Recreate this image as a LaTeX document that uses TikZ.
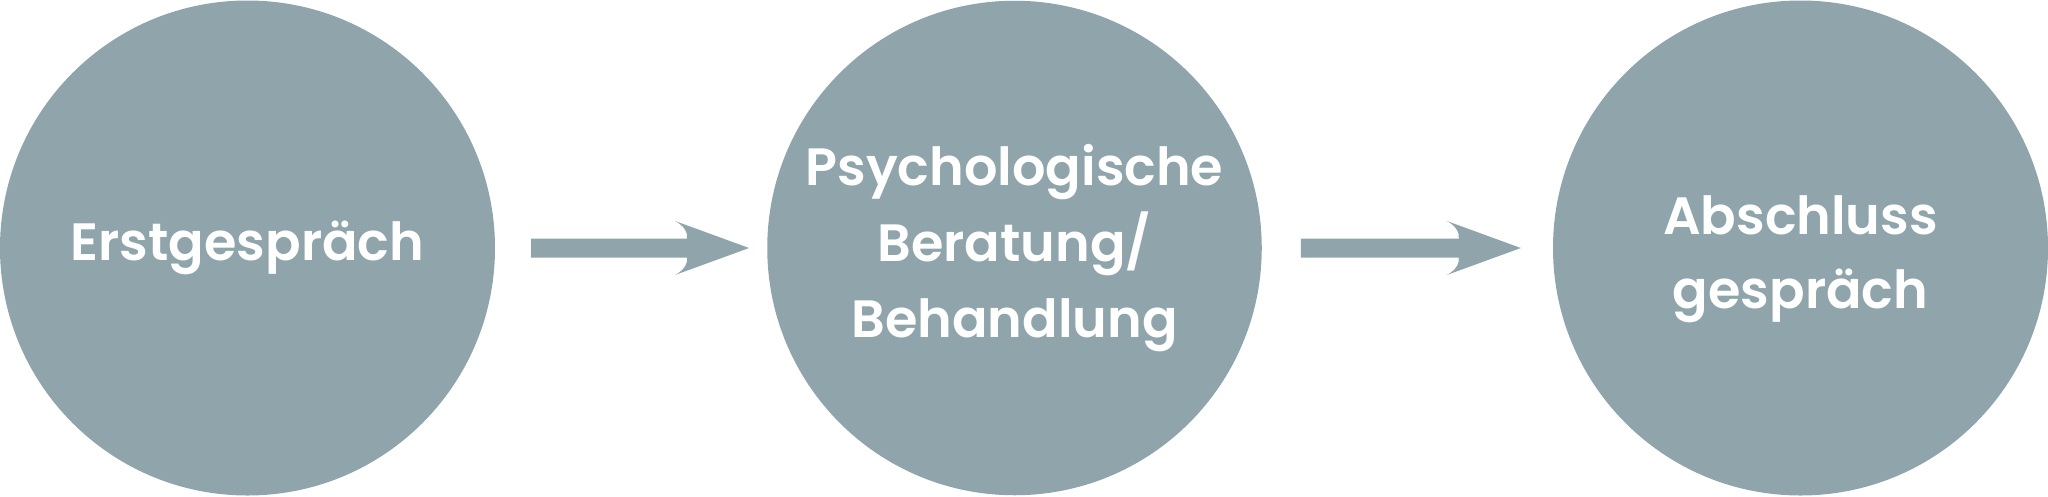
\documentclass[tikz,border=0pt]{standalone}
\usepackage{fontspec}
\setmainfont{Poppins}[BoldFont={Poppins SemiBold}]
\usetikzlibrary{calc}
\definecolor{stagecol}{HTML}{8FA5AB}
\begin{document}
\begin{tikzpicture}[x=1pt,y=-1pt,
  stage/.style={circle, fill=stagecol, inner sep=0pt, draw=none},
  lbl/.style={text=white, align=center, inner sep=0pt,
    font=\bfseries\fontsize{52.5}{76}\selectfont},
  lbltwo/.style={lbl, font=\bfseries\fontsize{52.5}{74}\selectfont},
  fatarrow/.style={to path={let \p1=(\tikztostart), \p2=(\tikztotarget) in
    ({\x1},{\y1+9.5pt}) -- ({\x2-62pt},{\y1+9.5pt})
    .. controls ({\x2-61pt},{\y1+16pt}) and ({\x2-66pt},{\y1+23pt}) .. ({\x2-74pt},{\y1+27pt})
    -- ({\x2},{\y1})
    -- ({\x2-74pt},{\y1-27pt})
    .. controls ({\x2-66pt},{\y1-23pt}) and ({\x2-61pt},{\y1-16pt}) .. ({\x2-62pt},{\y1-9.5pt})
    -- ({\x1},{\y1-9.5pt}) -- cycle}}]
\useasboundingbox (0,0) rectangle (2048,496);
\node[stage, minimum size=495pt] (c1) at (247.5,248) {};
\node[stage, minimum size=494.5pt] (c2) at (1014.5,248) {};
\node[stage, minimum size=495pt] (c3) at (1800.5,248) {};
\node[lbl] (t1) at (c1.center) {Erstgespräch};
\node[lbl] (t2) at (c2.center) {Psychologische\\Beratung/\\Behandlung};
\node[lbltwo] (t3) at ([yshift=-11pt]c3.center) {Abschluss\\gespräch};
\coordinate (a1s) at ([xshift=36pt]c1.east);
\coordinate (a1e) at ([xshift=-18pt]c2.west);
\coordinate (a2s) at ([xshift=39pt]c2.east);
\coordinate (a2e) at ([xshift=-32pt]c3.west);
\path[fill=stagecol] (a1s) to[fatarrow] (a1e);
\path[fill=stagecol] (a2s) to[fatarrow] (a2e);
\end{tikzpicture}
\end{document}
